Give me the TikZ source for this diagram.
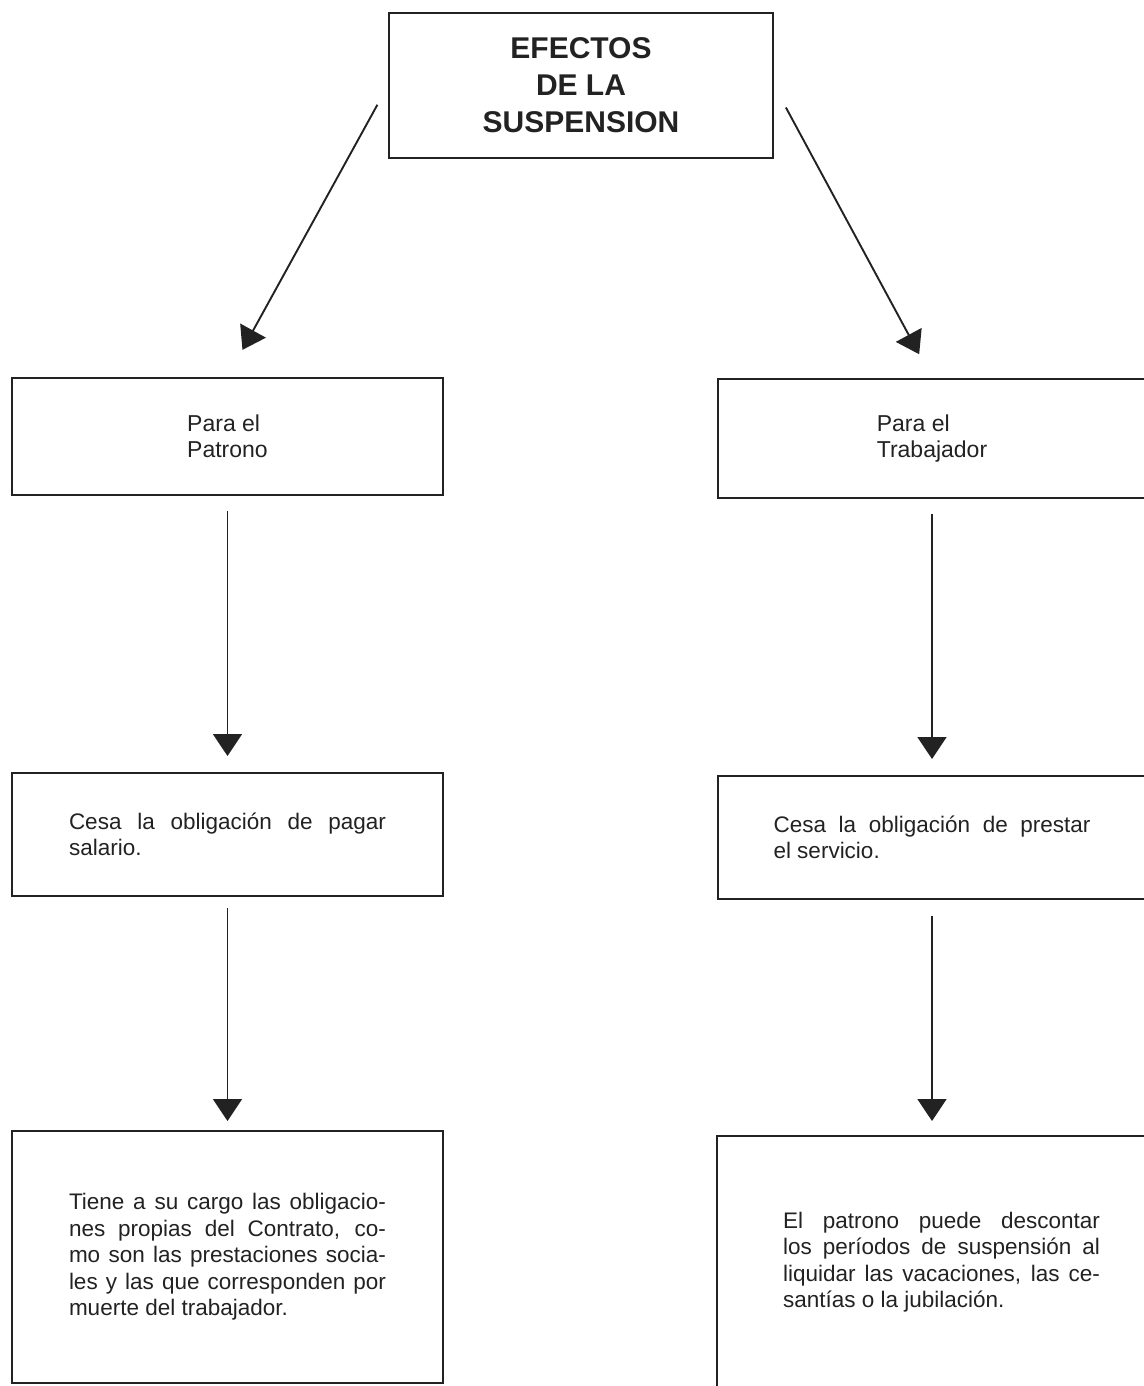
\documentclass[tikz,border=0pt]{standalone}
\usepackage{fontspec}
\setmainfont{Liberation Sans}
\usetikzlibrary{arrows.meta}
\definecolor{ink}{RGB}{34,34,34}
\tikzset{
	box/.style={draw=ink, line width=2pt, inner sep=0pt, text=ink},
	heading/.style={font=\fontsize{30}{37}\selectfont\bfseries, align=center},
	side/.style={font=\fontsize{23}{26}\selectfont, align=left},
	body/.style={font=\fontsize{22.5}{26.5}\selectfont, text width=317pt, align=justify,
		execute at begin node={\hyphenpenalty=10000\tolerance=9999}},
	flow/.style={draw=ink, line width=1.9pt, -{Triangle[width=29pt,length=22pt]}}
}
\begin{document}
\begin{tikzpicture}[x=1pt, y=-1pt]

	\useasboundingbox (0,0) rectangle (1143,1386);

	\node[box, heading, minimum width=384pt, minimum height=145pt] (efectos) at (581,85.5) {EFECTOS\\DE LA\\SUSPENSION};

	% patrono
	\node[box, side, minimum width=431pt, minimum height=117pt] (patrono) at (227.5,436.5) {Para el\\Patrono};
	\node[box, body, minimum width=431pt, minimum height=123pt] (pagar) at (227.5,834.5) {Cesa la obligación de pagar\linebreak salario.};
	\node[box, body, minimum width=431pt, minimum height=252pt] (cargo) at (227.5,1257) {Tiene a su cargo las obligacio-\linebreak nes propias del Contrato, co-\linebreak mo son las prestaciones socia-\linebreak les y las que corresponden por\linebreak muerte del trabajador.};

	% trabajador
	\node[box, side, minimum width=428pt, minimum height=119pt] (trabajador) at (932,438.5) {Para el\\Trabajador};
	\node[box, body, minimum width=428pt, minimum height=123pt] (servicio) at (932,837.5) {Cesa la obligación de prestar\linebreak el servicio.};
	\node[box, body, minimum width=449pt, minimum height=252pt] (descontar) at (941.5,1262) {El patrono puede descontar\linebreak los períodos de suspensión al\linebreak liquidar las vacaciones, las ce-\linebreak santías o la jubilación.};

	\draw[flow, shorten <=22pt, shorten >=31pt] (efectos.west) -- (patrono.north);
	\draw[flow, shorten <=25pt, shorten >=27pt] (efectos.east) -- (trabajador.north);

	\draw[flow, shorten <=15pt, shorten >=16pt] (patrono.south) -- (pagar.north);
	\draw[flow, shorten <=11pt, shorten >=9pt] (pagar.south) -- (cargo.north);

	\draw[flow, shorten <=15pt, shorten >=16pt] (trabajador.south) -- (servicio.north);
	\draw[flow, shorten <=16pt, shorten >=14pt] (servicio.south) -- (servicio.south |- descontar.north);

\end{tikzpicture}
\end{document}
